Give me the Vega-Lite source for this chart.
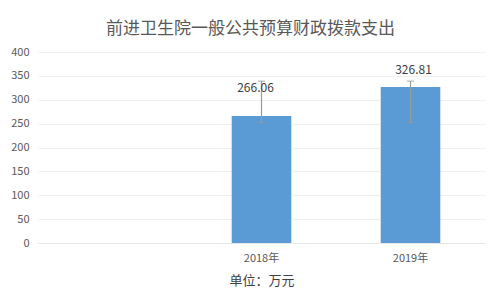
{
  "$schema": "https://vega.github.io/schema/vega-lite/v6.json",
  "autosize": {"type": "none"},
  "width": 447,
  "height": 191,
  "padding": {"left": 38, "top": 52, "right": 16, "bottom": 58},
  "background": "white",
  "config": {
    "view": {"stroke": null},
    "font": "Noto Sans CJK SC",
    "axisY": {"labelOverlap": false, "domain": false, "ticks": false, "labelFontSize": 11, "labelColor": "#595959", "labelPadding": 9, "gridColor": "#efefef", "title": null}
  },
  "title": {
    "text": "前进卫生院一般公共预算财政拨款支出",
    "fontSize": 17,
    "fontWeight": "normal",
    "color": "#595959",
    "font": "Noto Sans CJK SC",
    "offset": 8,
    "dx": -11
  },
  "data": {
    "values": [
      {"year": "2018年", "value": 266.06, "low": 252, "high": 339},
      {"year": "2019年", "value": 326.81, "low": 252, "high": 339}
    ]
  },
  "encoding": {
    "x": {
      "field": "year",
      "type": "nominal",
      "scale": {"domain": [" ", "2018年", "2019年"], "paddingInner": 0.6, "paddingOuter": 0.3},
      "axis": {
        "title": "单位：万元",
        "titleFontSize": 13,
        "titleFontWeight": "normal",
        "titleColor": "#404040",
        "titlePadding": 11,
        "labelAngle": 0,
        "labelFontSize": 11,
        "labelColor": "#595959",
        "labelPadding": 9,
        "ticks": false,
        "domainColor": "#e6e6e6",
        "grid": false
      }
    }
  },
  "layer": [
    {
      "mark": {"type": "bar", "color": "#5B9BD5"},
      "encoding": {
        "y": {
          "field": "value",
          "type": "quantitative",
          "scale": {"domain": [0, 400]},
          "axis": {"title": null, "values": [0, 50, 100, 150, 200, 250, 300, 350, 400]}
        }
      }
    },
    {
      "mark": {"type": "rule", "color": "#999999", "strokeWidth": 1.2},
      "encoding": {
        "y": {"field": "low", "type": "quantitative", "axis": {"title": null, "values": [0, 50, 100, 150, 200, 250, 300, 350, 400]}},
        "y2": {"field": "high"}
      }
    },
    {
      "mark": {"type": "tick", "color": "#999999", "size": 7, "thickness": 1.2},
      "encoding": {"y": {"field": "low", "type": "quantitative", "axis": {"title": null, "values": [0, 50, 100, 150, 200, 250, 300, 350, 400]}}}
    },
    {
      "mark": {"type": "tick", "color": "#999999", "size": 7, "thickness": 1.2},
      "encoding": {"y": {"field": "high", "type": "quantitative", "axis": {"title": null, "values": [0, 50, 100, 150, 200, 250, 300, 350, 400]}}}
    },
    {
      "transform": [{"filter": "datum.year == '2018年'"}],
      "mark": {"type": "text", "fontSize": 12, "color": "#404040", "baseline": "middle", "dy": -28, "dx": -6},
      "encoding": {
        "y": {"field": "value", "type": "quantitative", "axis": {"title": null, "values": [0, 50, 100, 150, 200, 250, 300, 350, 400]}},
        "text": {"field": "value", "type": "quantitative", "format": ".2f"}
      }
    },
    {
      "transform": [{"filter": "datum.year == '2019年'"}],
      "mark": {"type": "text", "fontSize": 12, "color": "#404040", "baseline": "middle", "dy": -17, "dx": 3},
      "encoding": {
        "y": {"field": "value", "type": "quantitative", "axis": {"title": null, "values": [0, 50, 100, 150, 200, 250, 300, 350, 400]}},
        "text": {"field": "value", "type": "quantitative", "format": ".2f"}
      }
    }
  ]
}
